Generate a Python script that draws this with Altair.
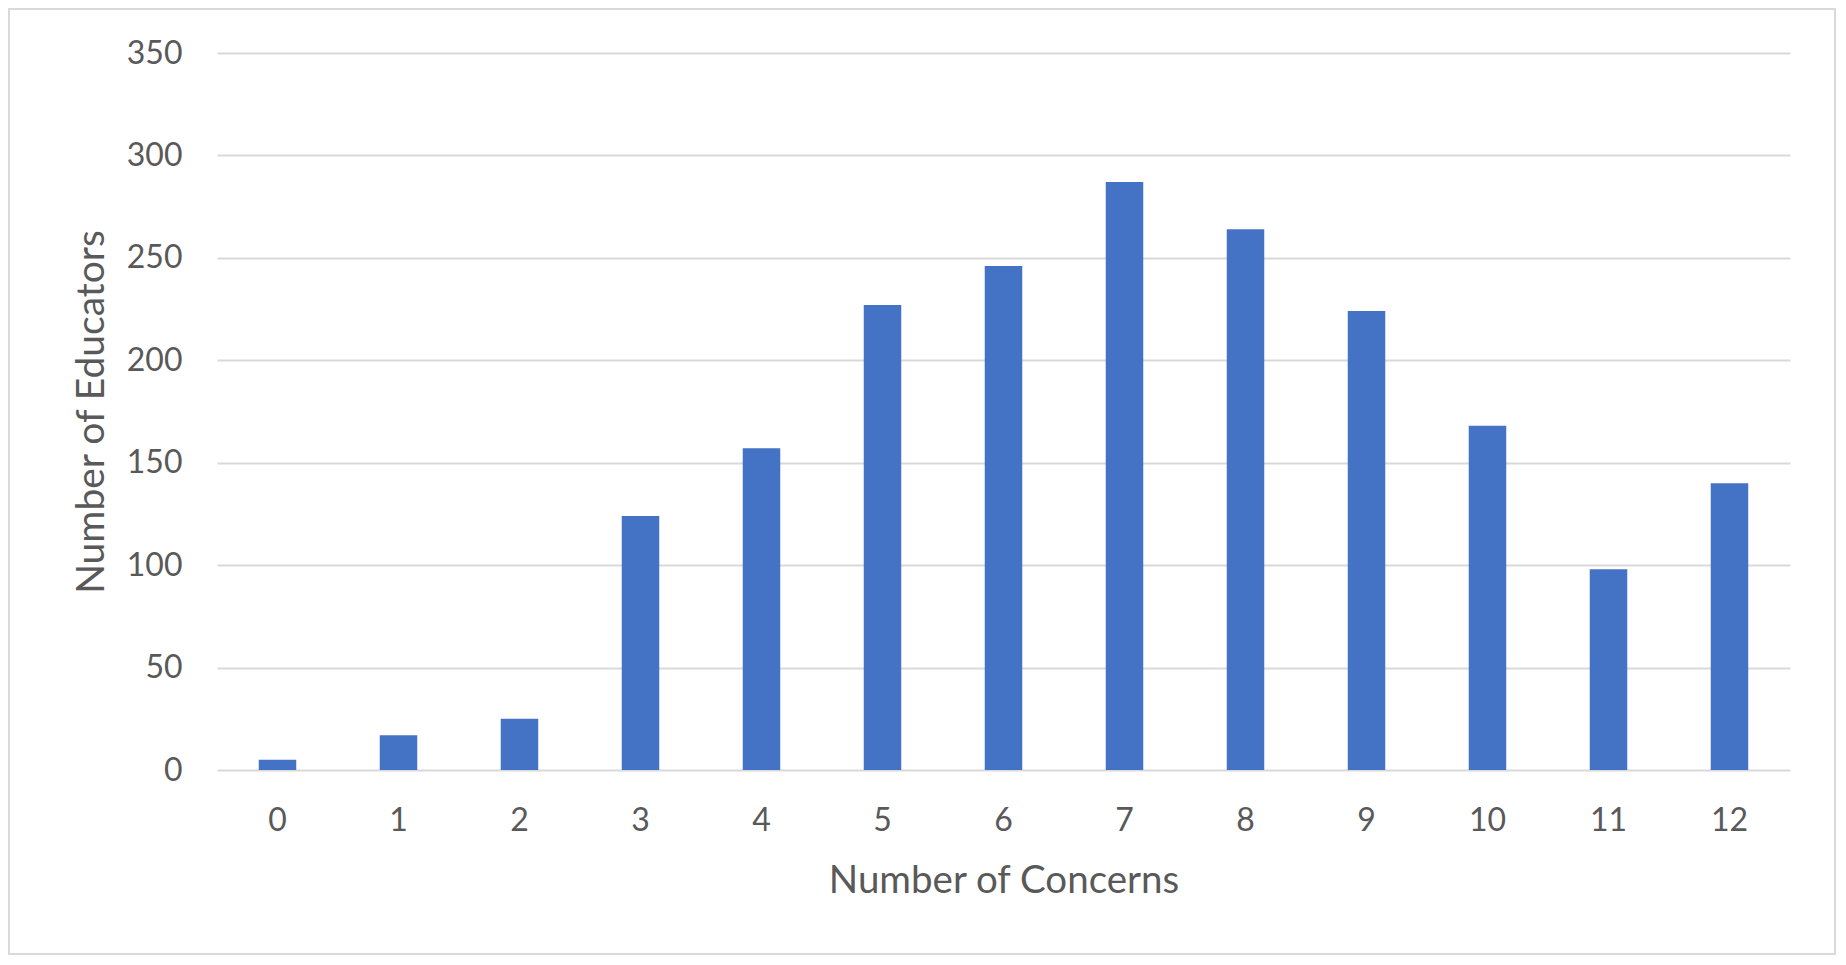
import altair as alt
import pandas as pd

concerns = ["0", "1", "2", "3", "4", "5", "6", "7", "8", "9", "10", "11", "12"]
educators = [5, 17, 25, 124, 157, 227, 246, 287, 264, 224, 168, 98, 140]
y_ticks = [0, 50, 100, 150, 200, 250, 300, 350]

df = pd.DataFrame({"concerns": concerns, "educators": educators})

FONT = "Lato"
TXT = "#595959"
GRID = "#d9d9d9"

bars = alt.Chart(df).mark_bar(color="#4472C4").encode(
    x=alt.X(
        "concerns:N",
        sort=concerns,
        scale=alt.Scale(paddingInner=0.69, paddingOuter=0.345),
        axis=alt.Axis(
            title="Number of Concerns",
            labelAngle=0,
            labelFont=FONT,
            labelFontSize=32,
            labelColor=TXT,
            labelPadding=35,
            ticks=False,
            domain=False,
            grid=False,
            titleFont=FONT,
            titleFontSize=38.5,
            titleFontWeight="normal",
            titleColor=TXT,
            titleBaseline="alphabetic",
            titleX=786.5,
            titleY=122,
        ),
    ),
    y=alt.Y(
        "educators:Q",
        scale=alt.Scale(domain=[0, 350], nice=False),
        axis=alt.Axis(
            title="Number of Educators",
            values=y_ticks,
            labelFont=FONT,
            labelFontSize=32,
            labelColor=TXT,
            labelPadding=35,
            ticks=False,
            domain=False,
            grid=True,
            gridColor=GRID,
            gridWidth=2,
            titleFont=FONT,
            titleFontSize=39,
            titleFontWeight="normal",
            titleColor=TXT,
            titleAngle=270,
            titleBaseline="alphabetic",
            titleX=-114,
            titleY=358.5,
        ),
    ),
)

border = alt.Chart(alt.Data(values=[{}])).mark_rect(
    filled=False, stroke=GRID, strokeWidth=2
).encode(
    x=alt.value(-208),
    x2=alt.value(1618),
    y=alt.value(-44),
    y2=alt.value(901),
)

chart = (
    alt.layer(bars, border)
    .properties(width=1573, height=717, padding=0, background="white")
    .configure_view(stroke=None)
)

chart.save("out.html", embed_options={"renderer": "svg", "actions": False})
